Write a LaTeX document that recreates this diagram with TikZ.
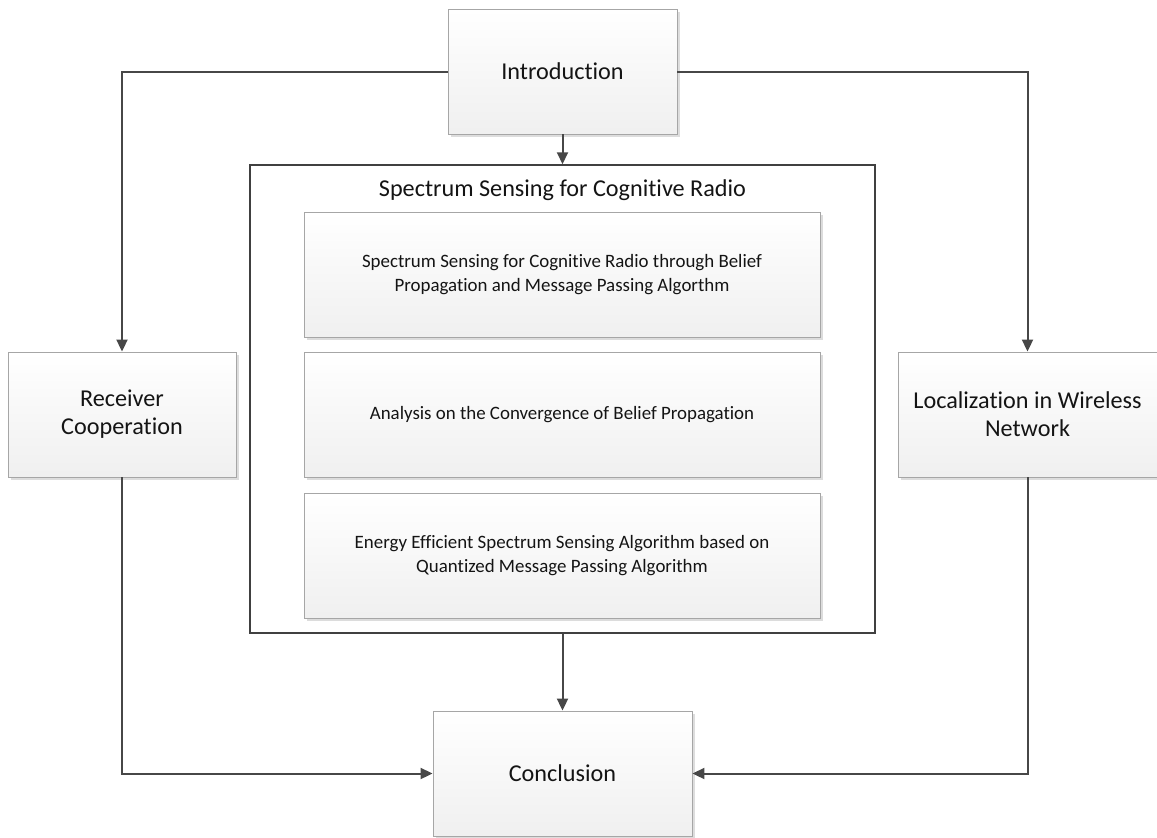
\documentclass[tikz,border=0pt]{standalone}
\usepackage{fontspec}
\setmainfont{Carlito}[Ligatures=NoCommon]
\usetikzlibrary{arrows.meta,shadows}

\tikzset{
  box/.style={draw=gray!70, line width=0.9pt, top color=white, bottom color=gray!12,
    inner sep=0pt, align=center, text=black!92,
    drop shadow={shadow xshift=2.5pt, shadow yshift=-2.5pt, fill=gray!45, opacity=0.6}},
  bigbox/.style={box, minimum width=229pt, minimum height=125pt, font=\fontsize{24.2}{28}\selectfont},
  sidebox/.style={box, minimum height=125pt, font=\fontsize{24.2}{28}\selectfont},
  topicbox/.style={box, minimum width=516pt, minimum height=125pt, font=\fontsize{18.9}{24}\selectfont},
  frame/.style={draw=black!75, line width=1.5pt, fill=white, minimum width=625pt, minimum height=468pt, inner sep=0pt},
  conn/.style={draw=black!72, line width=2pt, -{Triangle[length=12pt,width=11pt]}}
}

\begin{document}
\begin{tikzpicture}[x=1pt, y=-1pt]
  \useasboundingbox (0,0) rectangle (1157,838);

  % chapter boxes
  \node[bigbox] (intro) at (562.5,71.5) {Introduction};
  \node[sidebox, minimum width=228pt] (recv) at (122,414.5) {Receiver\\Cooperation};
  \node[sidebox, minimum width=259pt] (loc) at (1027.5,414.5) {Localization in Wireless\\Network};
  \node[bigbox, minimum width=259pt] (concl) at (562.5,773.5) {Conclusion};

  % spectrum sensing group
  \node[frame] (group) at (562.5,399) {};
  \node[font=\fontsize{24.2}{28}\selectfont, text=black!92] (title) at (562.5,190) {Spectrum Sensing for Cognitive Radio};
  \node[topicbox] (bp) at (562,274.5) {Spectrum Sensing for Cognitive Radio through Belief\\Propagation and Message Passing Algorthm};
  \node[topicbox] (conv) at (562,414.5) {Analysis on the Convergence of Belief Propagation};
  \node[topicbox] (quant) at (562,555.5) {Energy Efficient Spectrum Sensing Algorithm based on\\Quantized Message Passing Algorithm};

  % connectors
  \draw[conn] (intro.west) -| (recv.north);
  \draw[conn] (intro.east) -| (loc.north);
  \draw[conn] (intro.south) -- (group.north);
  \draw[conn] (group.south) -- (concl.north);
  \draw[conn] (recv.south) |- (concl.west);
  \draw[conn] (loc.south) |- (concl.east);
\end{tikzpicture}
\end{document}
